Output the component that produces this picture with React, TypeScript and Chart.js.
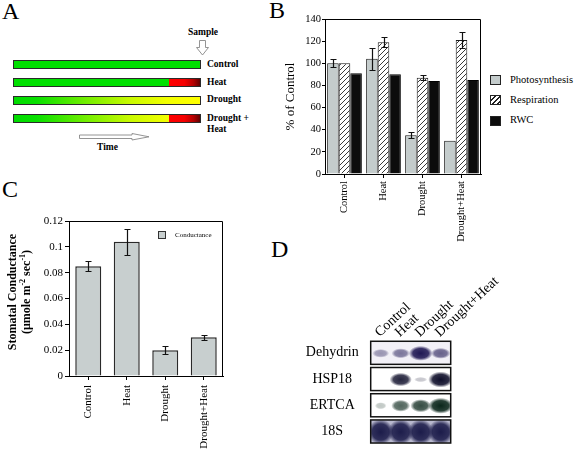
import React, { useEffect, useRef } from "react";
import { Chart, registerables } from "chart.js";

Chart.register(...registerables);

const SERIF = "'Liberation Serif', 'Times New Roman', Times, serif";

// ---------- Panel A (schematic) ----------
const treatments = ["Control", "Heat", "Drought", "Drought +"];

// ---------- Panel B ----------
const gasCategories = ["Control", "Heat", "Drought", "Drought+Heat"];
const seriesNames = ["Photosynthesis", "Respiration", "RWC"];
const photosynthesis = [100, 104, 35, 30];
const photosynthesisErr = [3.5, 10, 2.5, 0];
const respiration = [100, 119, 87, 121];
const respirationErr = [0, 4.5, 2, 7];
const rwc = [91, 90, 84, 85];
const percentTicks = [0, 20, 40, 60, 80, 100, 120, 140];

// ---------- Panel C ----------
const conductanceCategories = ["Control", "Heat", "Drought", "Drought+Heat"];
const conductance = [0.085, 0.104, 0.02, 0.03];
const conductanceErr = [0.004, 0.01, 0.003, 0.002];
const conductanceTicks = [0, 0.01, 0.02, 0.03, 0.04, 0.05, 0.06, 0.07, 0.08, 0.09, 0.1, 0.11, 0.12];

// ---------- Panel D (RNA blot) ----------
const blotLanes = ["Control", "Heat", "Drought", "Drought+Heat"];
const blotGenes = ["Dehydrin", "HSP18", "ERTCA", "18S"];
const dehydrinSignal = [0.3, 0.45, 1.0, 0.55];
const hsp18Signal = [0, 0.8, 0.1, 1.0];
const ertcaSignal = [0.12, 0.6, 0.72, 1.0];
const rRNA18SSignal = [0.95, 0.9, 0.92, 0.95];

const PHOTO_FILL = "#c4cccc";
const COND_FILL = "#c8cfcf";

function makeHatch(): CanvasPattern | string {
  const s = 5;
  const c = document.createElement("canvas");
  c.width = s;
  c.height = s;
  const g = c.getContext("2d");
  if (!g) return "#fff";
  g.fillStyle = "#fff";
  g.fillRect(0, 0, s, s);
  g.strokeStyle = "#222";
  g.lineWidth = 0.9;
  g.beginPath();
  g.moveTo(0, s);
  g.lineTo(s, 0);
  g.moveTo(-1, 1);
  g.lineTo(1, -1);
  g.moveTo(s - 1, s + 1);
  g.lineTo(s + 1, s - 1);
  g.stroke();
  const p = g.createPattern(c, "repeat");
  return p || "#fff";
}

const frameBoxPlugin = {
  id: "frameBox",
  afterDraw(chart: any) {
    const { ctx, chartArea } = chart;
    ctx.save();
    ctx.strokeStyle = "#000";
    ctx.lineWidth = 1;
    ctx.beginPath();
    const l = Math.round(chartArea.left) + 0.5;
    const t = Math.round(chartArea.top) + 0.5;
    const r = Math.round(chartArea.right) - 0.5;
    const b = Math.round(chartArea.bottom) + 0.5;
    ctx.moveTo(l, t);
    ctx.lineTo(r, t);
    ctx.lineTo(r, b);
    ctx.stroke();
    ctx.restore();
  },
};

const errorBarPlugin = {
  id: "errorBars",
  afterDatasetsDraw(chart: any) {
    const ctx = chart.ctx;
    const yScale = chart.scales.y;
    chart.data.datasets.forEach((ds: any, di: number) => {
      const errs = ds.errorBars;
      if (!errs) return;
      const meta = chart.getDatasetMeta(di);
      meta.data.forEach((el: any, i: number) => {
        const e = errs[i];
        if (!e) return;
        const v = ds.data[i];
        const x = Math.round(el.x) + 0.5;
        const yt = Math.round(yScale.getPixelForValue(v + e)) + 0.5;
        const yb = Math.round(yScale.getPixelForValue(v - e)) + 0.5;
        ctx.save();
        ctx.strokeStyle = "#111";
        ctx.lineWidth = 1.2;
        ctx.beginPath();
        ctx.moveTo(x, yt);
        ctx.lineTo(x, yb);
        ctx.moveTo(x - 3, yt);
        ctx.lineTo(x + 3, yt);
        ctx.moveTo(x - 3, yb);
        ctx.lineTo(x + 3, yb);
        ctx.stroke();
        ctx.restore();
      });
    });
  },
};

const blotStyles = [
  { color: "32,24,84", rx: [7, 12], ry: [3, 7.5], bg: "#f2f0f7" },
  { color: "14,14,42", rx: [6, 12.5], ry: [2, 8], bg: "#ffffff" },
  { color: "10,38,26", rx: [5, 12.5], ry: [3, 8], bg: "#ffffff" },
  { color: "28,28,74", rx: [13, 13], ry: [12.5, 12.5], bg: "#b9b9cf" },
];

const blotPlugin = {
  id: "blot",
  afterDatasetsDraw(chart: any) {
    const { ctx, chartArea } = chart;
    const yScale = chart.scales.y;
    const band = Math.abs(yScale.getPixelForValue(1) - yScale.getPixelForValue(0));
    const half = band * 0.44;
    chart.data.datasets.forEach((ds: any, di: number) => {
      const st = blotStyles[di];
      const yc = yScale.getPixelForValue(di);
      const top = yc - half;
      const h = half * 2;
      ctx.save();
      ctx.beginPath();
      ctx.rect(chartArea.left, top, chartArea.right - chartArea.left, h);
      ctx.fillStyle = st.bg;
      ctx.fill();
      ctx.clip();
      const meta = chart.getDatasetMeta(di);
      meta.data.forEach((el: any, i: number) => {
        const s = ds.signal[i];
        if (!s) return;
        const rx = st.rx[0] + (st.rx[1] - st.rx[0]) * s;
        const ry = st.ry[0] + (st.ry[1] - st.ry[0]) * s;
        const a = Math.min(1, 0.14 + 0.95 * s);
        ctx.save();
        ctx.translate(el.x, el.y + 0.5);
        ctx.scale(rx, ry);
        const g = ctx.createRadialGradient(0, 0, 0, 0, 0, 1);
        g.addColorStop(0, `rgba(${st.color},${a})`);
        g.addColorStop(0.65, `rgba(${st.color},${a * 0.88})`);
        g.addColorStop(1, `rgba(${st.color},0)`);
        ctx.fillStyle = g;
        ctx.beginPath();
        ctx.arc(0, 0, 1, 0, Math.PI * 2);
        ctx.fill();
        ctx.restore();
      });
      ctx.restore();
      ctx.save();
      ctx.strokeStyle = "#111";
      ctx.lineWidth = 1.5;
      ctx.strokeRect(chartArea.left, top, chartArea.right - chartArea.left, h);
      ctx.restore();
    });
  },
};

function useChart(ref: React.RefObject<HTMLCanvasElement>, make: () => any) {
  useEffect(() => {
    if (!ref.current) return;
    const c = new Chart(ref.current, make());
    return () => c.destroy();
  }, []);
}

const tickFont = (size: number) => ({ size, family: SERIF });

function ChartB() {
  const ref = useRef<HTMLCanvasElement>(null);
  useChart(ref, () => ({
    type: "bar",
    data: {
      labels: gasCategories,
      datasets: [
        { label: seriesNames[0], data: photosynthesis, errorBars: photosynthesisErr, backgroundColor: PHOTO_FILL, borderColor: "#1a1a1a", borderWidth: 1 },
        { label: seriesNames[1], data: respiration, errorBars: respirationErr, backgroundColor: makeHatch(), borderColor: "#1a1a1a", borderWidth: 1 },
        { label: seriesNames[2], data: rwc, backgroundColor: "#0c0c0c", borderColor: "#000", borderWidth: 1 },
      ],
    },
    options: {
      responsive: false,
      animation: false,
      events: [],
      layout: { padding: { left: 0, top: 9, right: 9, bottom: 0 } },
      datasets: { bar: { categoryPercentage: 0.89, barPercentage: 1 } },
      plugins: { legend: { display: false }, tooltip: { enabled: false } },
      scales: {
        x: {
          grid: { drawOnChartArea: false, offset: false, tickLength: 4, color: "#000" },
          border: { color: "#000" },
          ticks: { minRotation: 90, maxRotation: 90, autoSkip: false, padding: 3, font: tickFont(10.5), color: "#000" },
          afterFit: (s: any) => { s.height = 76; },
        },
        y: {
          min: 0,
          max: 140,
          afterBuildTicks: (s: any) => { s.ticks = percentTicks.map((v) => ({ value: v })); },
          grid: { drawOnChartArea: false, tickLength: 3, color: "#000" },
          border: { color: "#000" },
          ticks: { padding: 1, font: tickFont(10.5), color: "#000" },
          title: { display: true, text: "% of Control", font: { size: 13, family: SERIF }, color: "#000", padding: { top: 13, bottom: 0 } },
          afterFit: (s: any) => { s.width = 55; },
        },
      },
    },
    plugins: [frameBoxPlugin, errorBarPlugin],
  }));
  return <canvas ref={ref} width={220} height={240} style={{ position: "absolute", left: 270, top: 10, width: 220, height: 240 }} />;
}

function ChartC() {
  const ref = useRef<HTMLCanvasElement>(null);
  useChart(ref, () => ({
    type: "bar",
    data: {
      labels: conductanceCategories,
      datasets: [
        { label: "Conductance", data: conductance, errorBars: conductanceErr, backgroundColor: COND_FILL, borderColor: "#2a2a2a", borderWidth: 1.5 },
      ],
    },
    options: {
      responsive: false,
      animation: false,
      events: [],
      layout: { padding: { left: 0, top: 21, right: 12, bottom: 0 } },
      datasets: { bar: { categoryPercentage: 1, barPercentage: 0.675 } },
      plugins: { legend: { display: false }, tooltip: { enabled: false } },
      scales: {
        x: {
          grid: { drawOnChartArea: false, offset: false, tickLength: 4, color: "#000" },
          border: { color: "#000" },
          ticks: { minRotation: 90, maxRotation: 90, autoSkip: false, padding: 5, font: tickFont(11), color: "#000" },
          afterFit: (s: any) => { s.height = 81; },
        },
        y: {
          min: 0,
          max: 0.12,
          afterBuildTicks: (s: any) => { s.ticks = conductanceTicks.map((v) => ({ value: v })); },
          grid: { drawOnChartArea: false, tickLength: 4, color: "#000" },
          border: { color: "#000" },
          ticks: { padding: 2, font: tickFont(11), color: "#000", callback: (v: any) => String(Math.round(Number(v) * 100) / 100) },
          afterFit: (s: any) => { s.width = 69; },
        },
      },
    },
    plugins: [frameBoxPlugin, errorBarPlugin],
  }));
  return <canvas ref={ref} width={235} height={257} style={{ position: "absolute", left: 0, top: 200, width: 235, height: 257 }} />;
}

function ChartD() {
  const ref = useRef<HTMLCanvasElement>(null);
  const signals = [dehydrinSignal, hsp18Signal, ertcaSignal, rRNA18SSignal];
  useChart(ref, () => ({
    type: "scatter",
    data: {
      datasets: blotGenes.map((gene, gi) => ({
        label: gene,
        signal: signals[gi],
        data: blotLanes.map((lane) => ({ x: lane, y: gene })),
        pointRadius: 0,
        showLine: false,
      })),
    },
    options: {
      responsive: false,
      animation: false,
      events: [],
      layout: { padding: { left: 0, top: 0, right: 123.3, bottom: 0 } },
      plugins: { legend: { display: false }, tooltip: { enabled: false } },
      scales: {
        x: {
          type: "category",
          labels: blotLanes,
          position: "top",
          offset: true,
          grid: { display: false },
          border: { display: false },
          ticks: { minRotation: 43, maxRotation: 43, autoSkip: false, padding: -9, labelOffset: 8, font: tickFont(14), color: "#000" },
          afterFit: (s: any) => { s.height = 84.7; },
        },
        y: {
          type: "category",
          labels: blotGenes,
          offset: true,
          grid: { display: false },
          border: { display: false },
          ticks: { crossAlign: "center", padding: 4, font: tickFont(14), color: "#000" },
          afterFit: (s: any) => { s.width = 80.7; },
        },
      },
    },
    plugins: [blotPlugin],
  }));
  return <canvas ref={ref} width={284} height={202} style={{ position: "absolute", left: 290, top: 255, width: 284, height: 202 }} />;
}

function Txt(props: { x: number; cy: number; size: number; bold?: boolean; center?: boolean; children: React.ReactNode }) {
  const { x, cy, size, bold, center, children } = props;
  return (
    <div
      style={{
        position: "absolute",
        left: x,
        top: cy - size / 2,
        fontSize: size,
        lineHeight: `${size}px`,
        fontFamily: SERIF,
        fontWeight: bold ? 700 : 400,
        whiteSpace: "nowrap",
        transform: center ? "translateX(-50%)" : undefined,
        color: "#000",
      }}
    >
      {children}
    </div>
  );
}

function PanelLetter(props: { x: number; baseline: number; children: React.ReactNode }) {
  return (
    <div style={{ position: "absolute", left: props.x, top: props.baseline - 20, fontSize: 24, lineHeight: "24px", fontFamily: SERIF, color: "#000" }}>
      {props.children}
    </div>
  );
}

const GREEN = "#00e000";
const DROUGHT_GRAD = "linear-gradient(to right, #00dc00 0%, #08e000 12%, #70ee00 38%, #c8fa00 62%, #f2ff00 82%, #ffff00 100%)";
const HEAT_GRAD = "linear-gradient(to right, #ff0000 0%, #f50000 50%, #b00000 80%, #600000 100%)";

function PanelA() {
  const rows = [
    { top: 60, base: GREEN, heat: false },
    { top: 78, base: GREEN, heat: true },
    { top: 96, base: DROUGHT_GRAD, heat: false },
    { top: 114, base: DROUGHT_GRAD, heat: true },
  ];
  const heatStart = 0.832;
  return (
    <>
      {rows.map((r, i) => (
        <div key={i} style={{ position: "absolute", left: 13, top: r.top, width: 188, height: 9, boxSizing: "border-box", border: "1px solid #2a2a2a", background: r.base, overflow: "hidden" }}>
          {r.heat && <div style={{ position: "absolute", left: `${heatStart * 100}%`, top: 0, bottom: 0, right: 0, background: HEAT_GRAD }} />}
        </div>
      ))}
      <Txt x={207} cy={64.3} size={9.5} bold>{treatments[0]}</Txt>
      <Txt x={207} cy={82.7} size={9.5} bold>{treatments[1]}</Txt>
      <Txt x={207} cy={100} size={9.5} bold>{treatments[2]}</Txt>
      <Txt x={207} cy={118.3} size={9.5} bold>{treatments[3]}</Txt>
      <Txt x={207} cy={129.3} size={9.5} bold>{treatments[1]}</Txt>
      <Txt x={203} cy={33} size={9.5} bold center>Sample</Txt>
      <Txt x={107.5} cy={148} size={9.5} bold center>Time</Txt>
      <svg style={{ position: "absolute", left: 0, top: 0 }} width={240} height={160}>
        <polygon points="199.5,40.5 205.5,40.5 205.5,47.5 208.5,47.5 202.5,55 196.5,47.5 199.5,47.5" fill="#fff" stroke="#888" strokeWidth={0.9} />
        <polygon points="79.5,135 132,135 132,133.5 149,136.8 132,140 132,138.5 79.5,138.5" fill="#fff" stroke="#888" strokeWidth={0.9} />
      </svg>
    </>
  );
}

function LegendB() {
  const fills = [PHOTO_FILL, "repeating-linear-gradient(135deg, #fff 0px, #fff 2.6px, #222 2.6px, #222 3.6px)", "#0c0c0c"];
  const centers = [80, 100, 120.5];
  return (
    <>
      {seriesNames.map((n, i) => (
        <React.Fragment key={n}>
          <div style={{ position: "absolute", left: 490, top: centers[i] - 5, width: 11, height: 10, boxSizing: "border-box", border: "1px solid #222", background: fills[i] }} />
          <Txt x={510} cy={centers[i]} size={10.5}>{n}</Txt>
        </React.Fragment>
      ))}
    </>
  );
}

function LegendC() {
  return (
    <>
      <div style={{ position: "absolute", left: 158, top: 231, width: 8, height: 8, boxSizing: "border-box", border: "1px solid #333", background: COND_FILL }} />
      <Txt x={175} cy={235} size={7}>Conductance</Txt>
    </>
  );
}

function TitleC() {
  const w = 140;
  const h = 28;
  const cx = 19.5;
  const cy = 291.5;
  return (
    <div
      style={{
        position: "absolute",
        left: cx - w / 2,
        top: cy - h / 2,
        width: w,
        height: h,
        transform: "rotate(-90deg)",
        fontFamily: SERIF,
        fontWeight: 700,
        fontSize: 12,
        lineHeight: "13.5px",
        textAlign: "center",
        color: "#000",
        whiteSpace: "nowrap",
      }}
    >
      <div>Stomatal Conductance</div>
      <div>
        (μmole m<sup style={{ fontSize: 8, lineHeight: 0 }}>-2</sup> sec<sup style={{ fontSize: 8, lineHeight: 0 }}>-1</sup>)
      </div>
    </div>
  );
}

export default function App() {
  return (
    <div style={{ position: "fixed", left: 0, top: 0, width: 574, height: 457, background: "#fff", overflow: "hidden" }}>
      <PanelLetter x={2} baseline={19}>A</PanelLetter>
      <PanelLetter x={269} baseline={18}>B</PanelLetter>
      <PanelLetter x={2} baseline={197}>C</PanelLetter>
      <PanelLetter x={271} baseline={257}>D</PanelLetter>
      <PanelA />
      <ChartB />
      <LegendB />
      <ChartC />
      <LegendC />
      <TitleC />
      <ChartD />
    </div>
  );
}
